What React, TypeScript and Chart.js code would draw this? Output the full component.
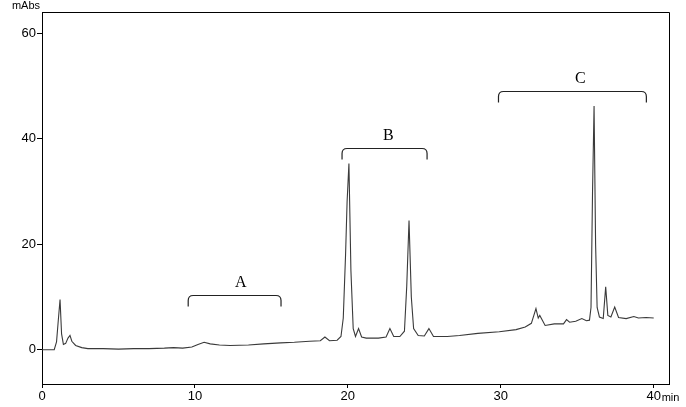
import React, { useEffect, useRef } from "react";
import { Chart, registerables } from "chart.js";

Chart.register(...registerables);

// Retention time (min) and absorbance (mAbs)
const times = [
  0, 0.8, 0.95, 1.05, 1.18, 1.28, 1.4, 1.55, 1.7, 1.83, 1.95, 2.2, 2.6, 3.0, 4.0, 5.0, 6.0, 7.0, 8.0, 8.6,
  9.2, 9.8, 10.2, 10.6, 11.0, 11.6, 12.3, 13.5, 14.5, 15.6, 16.5, 17.5, 18.2, 18.5, 18.8, 19.3, 19.55, 19.7,
  19.85, 19.95, 20.07, 20.2, 20.35, 20.5, 20.7, 20.9, 21.2, 22.0, 22.5, 22.75, 23.0, 23.4, 23.7, 23.85, 24.0,
  24.15, 24.3, 24.6, 25.0, 25.3, 25.6, 26.5, 27.3, 28.5, 29.9, 31.0, 31.6, 32.0, 32.3, 32.45, 32.55, 32.9,
  33.5, 34.1, 34.3, 34.5, 34.9, 35.3, 35.6, 35.8, 35.9, 36.0, 36.1, 36.2, 36.3, 36.45, 36.7, 36.86, 37.0,
  37.2, 37.45, 37.7, 38.2, 38.7, 39.0, 39.5, 40.0,
];
const absorbance = [
  0, 0, 1.5, 5, 9.5, 3, 1.0, 1.2, 2.2, 2.7, 1.6, 0.8, 0.4, 0.2, 0.2, 0.1, 0.2, 0.2, 0.3, 0.4,
  0.3, 0.5, 1.0, 1.4, 1.1, 0.9, 0.8, 0.9, 1.1, 1.3, 1.4, 1.6, 1.7, 2.4, 1.7, 1.8, 2.5, 6,
  18, 28, 35.3, 15, 4, 2.5, 4.0, 2.4, 2.2, 2.2, 2.4, 4.0, 2.5, 2.5, 3.5, 12, 24.5,
  10, 4, 2.7, 2.6, 4.0, 2.5, 2.5, 2.7, 3.1, 3.4, 3.8, 4.3, 5.0, 7.8, 6.0, 6.5, 4.6,
  4.9, 4.9, 5.7, 5.2, 5.4, 5.9, 5.5, 5.6, 8, 30, 46.2, 20, 8, 6.2, 5.9, 11.9, 6.5,
  6.2, 8.1, 6.1, 5.9, 6.3, 6.0, 6.1, 6.0,
];

const xTicks = [0, 10, 20, 30, 40];
const yTicks = [0, 20, 40, 60];

// Bracket annotations
const bracketLabels = ["A", "B", "C"];
const bracketStart = [9.56, 19.62, 29.85];
const bracketEnd = [15.63, 25.18, 39.52];
const bracketLevel = [10.3, 38.3, 49.1];
const bracketLabelX = [13.0, 22.65, 35.2];

const framePlugin = {
  id: "frameAndNotes",
  afterDraw(chart: any) {
    const { ctx, chartArea, scales } = chart;
    const xs = scales.x;
    const ys = scales.y;
    ctx.save();
    // frame top and right
    ctx.strokeStyle = "#000";
    ctx.lineWidth = 1;
    ctx.beginPath();
    const l = Math.round(chartArea.left) + 0.5;
    const t = Math.round(chartArea.top) + 0.5;
    const r = Math.round(chartArea.right) + 0.5;
    const b = Math.round(chartArea.bottom) + 0.5;
    ctx.moveTo(l, t);
    ctx.lineTo(r, t);
    ctx.lineTo(r, b);
    ctx.stroke();

    // brackets
    ctx.strokeStyle = "#222";
    ctx.lineWidth = 1.2;
    ctx.fillStyle = "#000";
    ctx.font = "16px 'Liberation Serif', 'Times New Roman', serif";
    ctx.textAlign = "center";
    ctx.textBaseline = "alphabetic";
    for (let i = 0; i < bracketLabels.length; i++) {
      const x0 = xs.getPixelForValue(bracketStart[i]);
      const x1 = xs.getPixelForValue(bracketEnd[i]);
      const y = Math.round(ys.getPixelForValue(bracketLevel[i])) + 0.5;
      const drop = 11;
      const rad = 5;
      ctx.beginPath();
      ctx.moveTo(x0, y + drop);
      ctx.lineTo(x0, y + rad);
      ctx.quadraticCurveTo(x0, y, x0 + rad, y);
      ctx.lineTo(x1 - rad, y);
      ctx.quadraticCurveTo(x1, y, x1, y + rad);
      ctx.lineTo(x1, y + drop);
      ctx.stroke();
      ctx.fillText(bracketLabels[i], xs.getPixelForValue(bracketLabelX[i]), y - 9);
    }

    // unit labels
    ctx.font = "11px 'Liberation Sans', Arial, sans-serif";
    ctx.textAlign = "right";
    ctx.textBaseline = "bottom";
    ctx.fillText("mAbs", chartArea.left - 2, chartArea.top - 1);
    ctx.textAlign = "left";
    ctx.textBaseline = "top";
    ctx.fillText("min", xs.getPixelForValue(40) + 8, chartArea.bottom + 8);
    ctx.restore();
  },
};

export default function App() {
  const canvasRef = useRef<HTMLCanvasElement | null>(null);

  useEffect(() => {
    document.body.style.margin = "0";
    const canvas = canvasRef.current;
    if (!canvas) return;
    const chart = new Chart(canvas, {
      type: "line",
      data: {
        datasets: [
          {
            data: times.map((t, i) => ({ x: t, y: absorbance[i] })),
            borderColor: "#3a3a3a",
            borderWidth: 1.1,
            pointRadius: 0,
            tension: 0,
            fill: false,
          },
        ],
      },
      options: {
        animation: false,
        responsive: false,
        maintainAspectRatio: false,
        layout: { padding: { top: 12, right: 17, left: 0, bottom: 0 } },
        plugins: { legend: { display: false }, tooltip: { enabled: false } },
        scales: {
          x: {
            type: "linear",
            min: 0,
            max: 41,
            afterBuildTicks: (scale: any) => {
              scale.ticks = xTicks.map((v) => ({ value: v }));
            },
            afterFit: (scale: any) => {
              scale.height = 23;
            },
            ticks: {
              autoSkip: false,
              maxRotation: 0,
              padding: 1,
              color: "#000",
              font: { family: "'Liberation Sans', Arial, sans-serif", size: 13 },
            },
            grid: { drawOnChartArea: false, drawTicks: true, tickLength: 4, color: "#000" },
            border: { display: true, color: "#000", width: 1 },
          },
          y: {
            type: "linear",
            min: -6.5,
            max: 64,
            afterBuildTicks: (scale: any) => {
              scale.ticks = yTicks.map((v) => ({ value: v }));
            },
            afterFit: (scale: any) => {
              scale.width = 42;
            },
            ticks: {
              autoSkip: false,
              padding: 1,
              color: "#000",
              font: { family: "'Liberation Sans', Arial, sans-serif", size: 13 },
            },
            grid: { drawOnChartArea: false, drawTicks: true, tickLength: 5, color: "#000" },
            border: { display: true, color: "#000", width: 1 },
          },
        },
      },
      plugins: [framePlugin],
    });
    return () => chart.destroy();
  }, []);

  return (
    <div style={{ position: "absolute", left: 0, top: 0, width: 686, height: 407, background: "#fff" }}>
      <canvas ref={canvasRef} width={686} height={407} style={{ width: 686, height: 407 }} />
    </div>
  );
}
